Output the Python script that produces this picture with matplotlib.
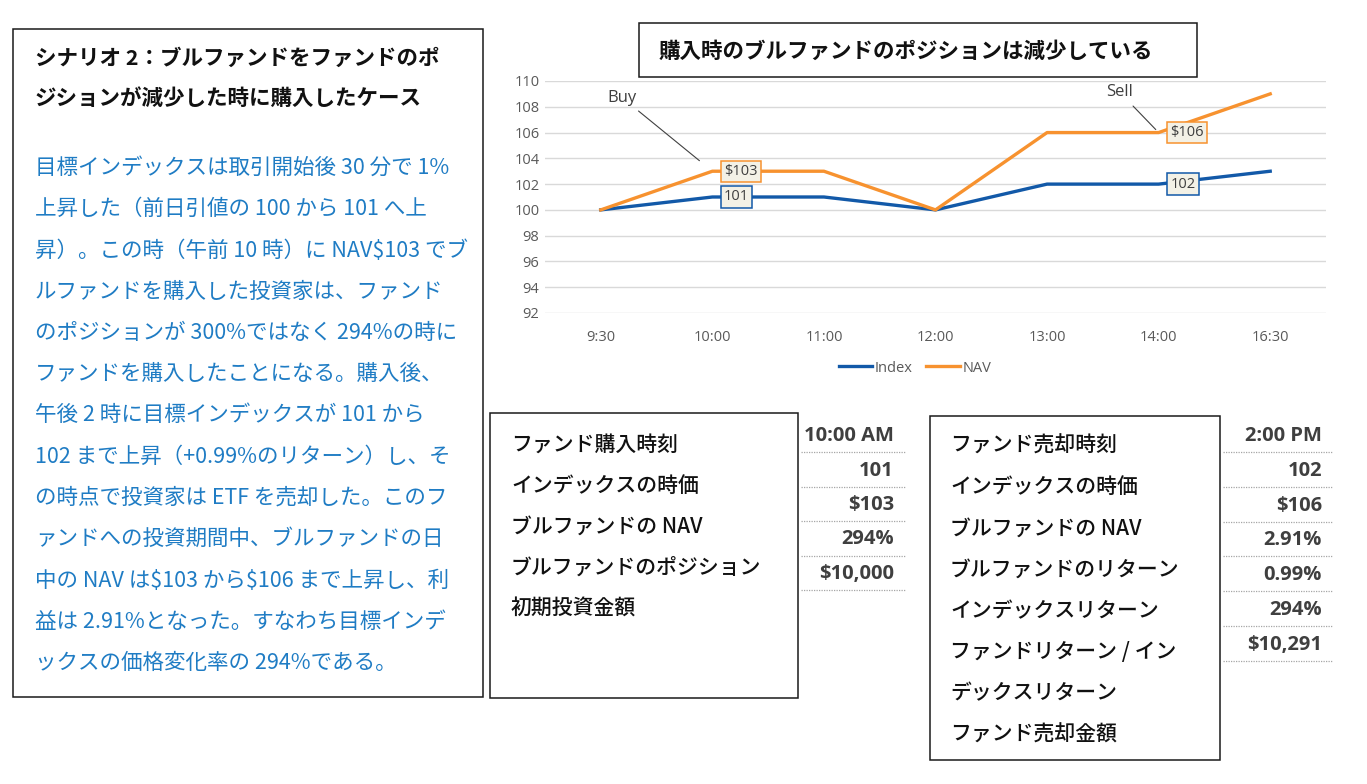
import matplotlib

matplotlib.use("Agg")
import matplotlib.pyplot as plt
from matplotlib.patches import Rectangle
from matplotlib.lines import Line2D

W, H = 1367, 784
CJK = ["Noto Sans CJK JP", "DejaVu Sans"]
LATIN = ["Open Sans", "DejaVu Sans"]

BLUE_TEXT = "#1F7CC4"
INDEX_COLOR = "#1259A8"
NAV_COLOR = "#F7922F"
VALUE_COLOR = "#3F3F3F"
AXIS_COLOR = "#595959"

# chart data
times = ["9:30", "10:00", "11:00", "12:00", "13:00", "14:00", "16:30"]
index_values = [100, 101, 101, 100, 102, 102, 103]
nav_values = [100, 103, 103, 100, 106, 106, 109]
y_ticks = [92, 94, 96, 98, 100, 102, 104, 106, 108, 110]
buy_idx = 1
sell_idx = 5

chart_title = "購入時のブルファンドのポジションは減少している"

scenario_title = [
    "シナリオ 2：ブルファンドをファンドのポ",
    "ジションが減少した時に購入したケース",
]
scenario_body = [
    "目標インデックスは取引開始後 30 分で 1%",
    "上昇した（前日引値の 100 から 101 へ上",
    "昇）。この時（午前 10 時）に NAV$103 でブ",
    "ルファンドを購入した投資家は、ファンド",
    "のポジションが 300%ではなく 294%の時に",
    "ファンドを購入したことになる。購入後、",
    "午後 2 時に目標インデックスが 101 から",
    "102 まで上昇（+0.99%のリターン）し、そ",
    "の時点で投資家は ETF を売却した。このフ",
    "ァンドへの投資期間中、ブルファンドの日",
    "中の NAV は$103 から$106 まで上昇し、利",
    "益は 2.91%となった。すなわち目標インデ",
    "ックスの価格変化率の 294%である。",
]

buy_labels = ["ファンド購入時刻", "インデックスの時価", "ブルファンドの NAV",
              "ブルファンドのポジション", "初期投資金額"]
buy_values = ["10:00 AM", "101", "$103", "294%", "$10,000"]

sell_labels = ["ファンド売却時刻", "インデックスの時価", "ブルファンドの NAV",
               "ブルファンドのリターン", "インデックスリターン", "ファンドリターン / イン",
               "デックスリターン", "ファンド売却金額"]
sell_values = ["2:00 PM", "102", "$106", "2.91%", "0.99%", "294%", "$10,291"]


def fx(x):
    return x / W


def fy(y):
    return 1 - y / H


def box(fig, x0, y0, x1, y1):
    fig.add_artist(Rectangle((fx(x0), fy(y1)), fx(x1 - x0), (y1 - y0) / H,
                             transform=fig.transFigure, fill=False,
                             edgecolor="#1a1a1a", lw=1.1))


fig = plt.figure(figsize=(W / 100, H / 100), dpi=100)
fig.patch.set_facecolor("white")

# ---- left text panel
box(fig, 13, 29, 483, 697)
for i, line in enumerate(scenario_title):
    fig.text(fx(35), fy(58 + i * 40), line, family=CJK, fontsize=15.5,
             fontweight="bold", color="#111111", va="center", ha="left",
             parse_math=False)
for i, line in enumerate(scenario_body):
    fig.text(fx(35), fy(168 + i * 41.25), line, family=CJK, fontsize=15.5,
             color=BLUE_TEXT, va="center", ha="left", parse_math=False)

# ---- chart
box(fig, 639, 23, 1197, 77)
fig.text(fx(659), fy(51), chart_title, family=CJK, fontsize=15.5,
         fontweight="bold", color="#111111", va="center", ha="left")

ax = fig.add_axes([fx(545), fy(313), fx(1326 - 545), (313 - 81) / H])
x = list(range(len(times)))
ax.plot(x, index_values, color=INDEX_COLOR, lw=2.4, zorder=3, label="Index")
ax.plot(x, nav_values, color=NAV_COLOR, lw=2.4, zorder=3, label="NAV")
ax.set_xlim(-0.5, len(times) - 0.5)
ax.set_ylim(y_ticks[0], y_ticks[-1])
ax.set_yticks(y_ticks)
ax.set_xticks(x)
ax.set_xticklabels(times)
for s in ax.spines.values():
    s.set_visible(False)
ax.yaxis.grid(True, color="#D9D9D9", lw=1)
ax.set_axisbelow(True)
ax.tick_params(axis="both", length=0, labelsize=10.5, labelcolor=AXIS_COLOR)
ax.tick_params(axis="x", pad=12)
ax.tick_params(axis="y", pad=4)
for lab in ax.get_xticklabels() + ax.get_yticklabels():
    lab.set_family(LATIN)

label_box = dict(boxstyle="square,pad=0.22", facecolor="#F3F1E6", lw=1.1)
for idx in (buy_idx, sell_idx):
    ax.annotate(f"${nav_values[idx]}", (idx, nav_values[idx]), xytext=(8.5, 0),
                textcoords="offset points", ha="left", va="center", fontsize=10.5,
                family=LATIN, color=VALUE_COLOR, zorder=6, parse_math=False,
                bbox=dict(label_box, edgecolor=NAV_COLOR))
    ax.annotate(f"{index_values[idx]}", (idx, index_values[idx]), xytext=(8.5, 0),
                textcoords="offset points", ha="left", va="center", fontsize=10.5,
                family=LATIN, color=VALUE_COLOR, zorder=6,
                bbox=dict(label_box, edgecolor=INDEX_COLOR))

ax.annotate("Buy", (buy_idx, nav_values[buy_idx]), xytext=(-65, 53),
            textcoords="offset points", ha="center", va="center", fontsize=12,
            family=LATIN, color=VALUE_COLOR,
            arrowprops=dict(arrowstyle="-", color="#404040", lw=0.8,
                            shrinkA=3, shrinkB=12))
ax.annotate("Sell", (sell_idx, nav_values[sell_idx]), xytext=(-28, 29),
            textcoords="offset points", ha="center", va="center", fontsize=12,
            family=LATIN, color=VALUE_COLOR,
            arrowprops=dict(arrowstyle="-", color="#404040", lw=0.8,
                            shrinkA=3, shrinkB=3))

leg = ax.legend(loc="center", bbox_to_anchor=(fx(915), fy(368)),
                bbox_transform=fig.transFigure, ncol=2, frameon=False,
                handlelength=2.3, handletextpad=0.2, columnspacing=0.9,
                prop={"family": LATIN, "size": 10.5})
for t in leg.get_texts():
    t.set_color(AXIS_COLOR)

# ---- buy table
box(fig, 490, 413, 798, 698)
for i, lab in enumerate(buy_labels):
    fig.text(fx(511), fy(445 + i * 41), lab, family=CJK, fontsize=15,
             fontweight="medium", color="#111111", va="center", ha="left")
for i, val in enumerate(buy_values):
    fig.text(fx(894), fy(436 + i * 34.5), val, family=LATIN, fontsize=14.5,
             fontweight="bold", color=VALUE_COLOR, va="center", ha="right",
             parse_math=False)
    yy = fy(452 + i * 34.6)
    fig.add_artist(Line2D([fx(801), fx(906)], [yy, yy], transform=fig.transFigure,
                          color="#A6A6A6", lw=0.9, ls=(0, (1, 1))))

# ---- sell table
box(fig, 930, 416, 1220, 760)
for i, lab in enumerate(sell_labels):
    fig.text(fx(950), fy(446 + i * 41.2), lab, family=CJK, fontsize=15,
             fontweight="medium", color="#111111", va="center", ha="left")
for i, val in enumerate(sell_values):
    fig.text(fx(1322), fy(436 + i * 34.8), val, family=LATIN, fontsize=14.5,
             fontweight="bold", color=VALUE_COLOR, va="center", ha="right",
             parse_math=False)
    yy = fy(452 + i * 34.8)
    fig.add_artist(Line2D([fx(1223), fx(1333)], [yy, yy], transform=fig.transFigure,
                          color="#A6A6A6", lw=0.9, ls=(0, (1, 1))))

fig.savefig("out.png", dpi=100)
